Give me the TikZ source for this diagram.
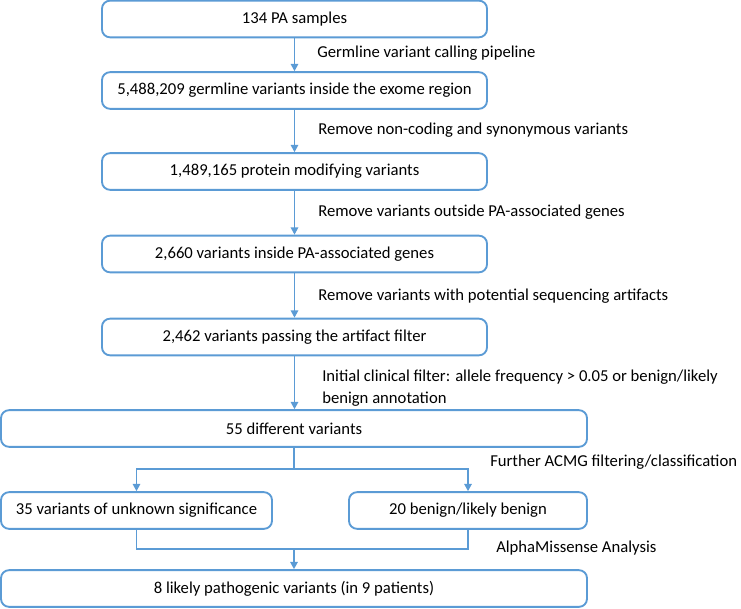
\documentclass[tikz,border=0pt]{standalone}
\usepackage{fontspec}
\setmainfont{Carlito}
\usetikzlibrary{arrows.meta}
\definecolor{flowblue}{HTML}{5B9BD5}
\begin{document}
\begin{tikzpicture}[x=0.75pt,y=-0.75pt,
  font=\fontsize{12.5}{15.9}\selectfont,
  stepbox/.style={draw=flowblue,line width=1.4pt,rounded corners=6pt,fill=white,
    minimum height=27.5pt,inner sep=0pt,text=black},
  conn/.style={draw=flowblue,line width=1.4pt},
  arr/.style={conn,-{Triangle[length=5.5pt,width=5.5pt]}},
  lab/.style={anchor=west,inner sep=0pt,text=black}]
\useasboundingbox (0,0) rectangle (741,608);
\node[stepbox,minimum width=288.75pt] (b1) at (294.5,19) {134 PA samples};
\node[stepbox,minimum width=288.75pt] (b2) at (294.5,90.5) {5,488,209 germline variants inside the exome region};
\node[stepbox,minimum width=288.75pt] (b3) at (294.5,171.5) {1,489,165 protein modifying variants};
\node[stepbox,minimum width=288.75pt] (b4) at (294.5,254) {2,660 variants inside PA-associated genes};
\node[stepbox,minimum width=288.75pt] (b5) at (294.5,337) {2,462 variants passing the artifact filter};
\node[stepbox,minimum width=439.5pt] (b6) at (294,428.5) {55 different variants};
\node[stepbox,minimum width=203.25pt] (b7) at (136.5,510.5) {35 variants of unknown significance};
\node[stepbox,minimum width=178.5pt] (b8) at (468,510.5) {20 benign/likely benign};
\node[stepbox,minimum width=439.5pt] (b9) at (294,588.5) {8 likely pathogenic variants (in 9 patients)};

\draw[arr] (b1.south) -- (b2.north);
\draw[arr] (b2.south) -- (b3.north);
\draw[arr] (b3.south) -- (b4.north);
\draw[arr] (b4.south) -- (b5.north);
\draw[arr] (b5.south) -- (b5.south |- b6.north);

\coordinate (split) at (294,469);
\coordinate (join) at (294,549);
\draw[conn] (b6.south) -- (split);
\draw[arr] (split) -| (b7.north);
\draw[arr] (split) -| (b8.north);
\draw[conn] (b7.south) |- (join);
\draw[conn] (b8.south) |- (join);
\draw[arr] (join) -- (join |- b9.north);

\node[lab] (l1) at (317,53) {Germline variant calling pipeline};
\node[lab] (l2) at (318,130) {Remove non-coding and synonymous variants};
\node[lab] (l3) at (318,212) {Remove variants outside PA-associated genes};
\node[lab] (l4) at (318,296) {Remove variants with potential sequencing artifacts};
\node[lab,anchor=north west,align=left] (l5) at (322,370) {Initial clinical filter: allele frequency > 0.05 or benign/likely\\benign annotation};
\node[lab] (l6) at (490,462) {Further ACMG filtering/classification};
\node[lab] (l7) at (496,548) {AlphaMissense Analysis};
\end{tikzpicture}
\end{document}
